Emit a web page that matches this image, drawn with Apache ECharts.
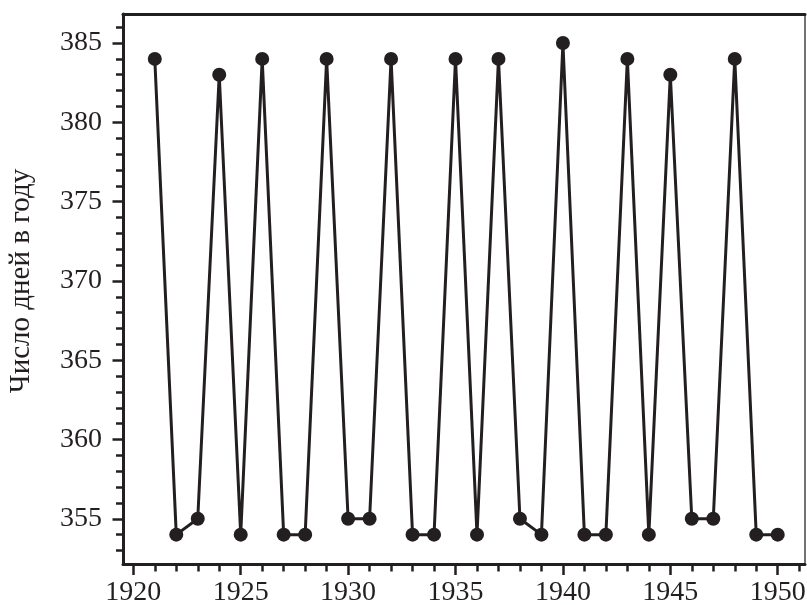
<!DOCTYPE html>
<html><head><meta charset="utf-8">
<script src="https://cdn.jsdelivr.net/npm/echarts@6/dist/echarts.min.js"></script>
<style>html,body{margin:0;padding:0;background:#fff}#c{width:807px;height:605px}</style>
</head><body><div id="c"></div>
<script>
const years = [1921,1922,1923,1924,1925,1926,1927,1928,1929,1930,1931,1932,1933,1934,1935,1936,1937,1938,1939,1940,1941,1942,1943,1944,1945,1946,1947,1948,1949,1950];
const days = [384,354,355,383,354,384,354,354,384,355,355,384,354,354,384,354,384,355,354,385,354,354,384,354,383,355,355,384,354,354];
const xMajorTicks = [1920,1925,1930,1935,1940,1945,1950];
const xMinorTicks = [1920,1921,1922,1923,1924,1925,1926,1927,1928,1929,1930,1931,1932,1933,1934,1935,1936,1937,1938,1939,1940,1941,1942,1943,1944,1945,1946,1947,1948,1949,1950,1951];
const yMajorTicks = [355,360,365,370,375,380,385];
const yMinorTicks = [353,354,355,356,357,358,359,360,361,362,363,364,365,366,367,368,369,370,371,372,373,374,375,376,377,378,379,380,381,382,383,384,385,386];
const yName = 'Число дней в году';

const INK = '#231f20';
const FONT = '"Liberation Serif", "Times New Roman", Times, serif';
const XMIN = 1919.52, XMAX = 1951.27, YMIN = 352.15, YMAX = 386.83;

const chart = echarts.init(document.getElementById('c'), null, {renderer:'canvas'});
chart.setOption({
  animation: false,
  backgroundColor: '#fff',
  grid: {left: 123, top: 14, right: 2, bottom: 41, containLabel: false, outerBoundsMode: 'none'},
  xAxis: [
    {type:'value', position:'bottom', min:XMIN, max:XMAX,
     axisLine:{show:true, onZero:false, lineStyle:{color:INK, width:3}},
     axisTick:{show:true, customValues:xMajorTicks, length:11, lineStyle:{color:INK, width:2.5}},
     axisLabel:{show:true, customValues:xMajorTicks, margin:15, color:INK, fontFamily:FONT, fontSize:28, formatter: v => String(v)},
     splitLine:{show:false}},
    {type:'value', position:'bottom', min:XMIN, max:XMAX,
     axisLine:{show:false, onZero:false},
     axisTick:{show:true, customValues:xMinorTicks, length:7.5, lineStyle:{color:INK, width:2.5}},
     axisLabel:{show:false}, splitLine:{show:false}},
    {type:'value', position:'top', min:XMIN, max:XMAX,
     axisLine:{show:true, onZero:false, lineStyle:{color:INK, width:3}},
     axisTick:{show:false}, axisLabel:{show:false}, splitLine:{show:false}}
  ],
  yAxis: [
    {type:'value', position:'left', min:YMIN, max:YMAX,
     name: yName, nameLocation:'middle', nameRotate:90, nameGap:87,
     nameTextStyle:{color:INK, fontFamily:FONT, fontSize:29, padding:[0,0,0,16]},
     axisLine:{show:true, onZero:false, lineStyle:{color:INK, width:3}},
     axisTick:{show:true, customValues:yMajorTicks, length:10.5, lineStyle:{color:INK, width:2.5}},
     axisLabel:{show:true, customValues:yMajorTicks, margin:21, color:INK, fontFamily:FONT, fontSize:28, formatter: v => String(v)},
     splitLine:{show:false}},
    {type:'value', position:'left', min:YMIN, max:YMAX,
     axisLine:{show:false, onZero:false},
     axisTick:{show:true, customValues:yMinorTicks, length:7, lineStyle:{color:INK, width:2.5}},
     axisLabel:{show:false}, splitLine:{show:false}},
    {type:'value', position:'right', min:YMIN, max:YMAX,
     axisLine:{show:true, onZero:false, lineStyle:{color:'#444', width:1.5}},
     axisTick:{show:false}, axisLabel:{show:false}, splitLine:{show:false}}
  ],
  series: [{
    type:'line', xAxisIndex:0, yAxisIndex:0,
    data: years.map((y,i) => [y, days[i]]),
    symbol:'circle', symbolSize:14, showSymbol:true,
    lineStyle:{color:INK, width:3}, itemStyle:{color:INK, borderWidth:0},
    emphasis:{disabled:true}
  }]
});
</script></body></html>
